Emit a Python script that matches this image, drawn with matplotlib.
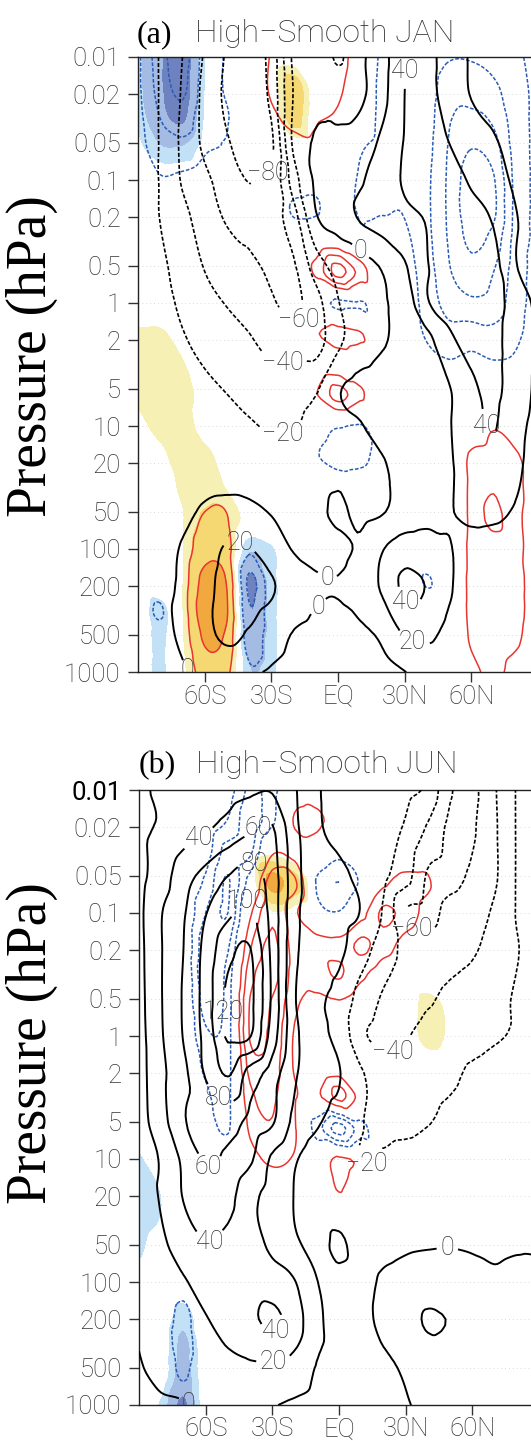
import numpy as np
import matplotlib.pyplot as plt
import matplotlib.tri as mtri

plt.rcParams['font.family'] = ['Roboto', 'DejaVu Sans']
plt.rcParams['font.weight'] = 'light'
plt.rcParams['lines.dashed_pattern'] = [2.4, 1.2]

# grid
lats = [-90, -80, -70, -60, -50, -40, -30, -20, -10, 0, 10, 20, 30, 40, 50, 60, 70, 80, 90]
p_wind = [0.01, 0.02, 0.05, 0.1, 0.2, 0.5, 1, 2, 5, 10, 20, 50, 100, 200, 500, 1000]
p_diff = [0.01, 0.0178, 0.0316, 0.0562, 0.1, 0.178, 0.316, 0.562, 1, 1.78, 3.16,
          5.62, 10, 17.8, 31.6, 56.2, 100, 178, 316, 562, 1000]

# zonal wind, January (rows follow p_wind)
u_jan = [
    [-12, -21, -40, -62, -82, -90, -72, -16, -8, -22, -4, 12, 40, 44, 32, 18, 12, 8, 5],
    [-12, -21, -42, -65, -84, -92, -74, -19, -6, -12, -4, 14, 40, 44, 33, 19, 14, 10, 6],
    [-12, -21, -44, -64, -78, -88, -84, -16, 2, 6, 10, 24, 41, 46, 40, 32, 22, 14, 8],
    [-10, -21, -42, -56, -68, -81, -76, -30, 3, 10, 18, 30, 42, 48, 46, 38, 28, 17, 10],
    [-8, -20.5, -34, -50, -62, -66, -66, -48, -2, 8, 22, 30, 36, 41, 46, 45, 38, 21, 12],
    [-6, -16, -28, -41, -50, -57, -62, -62, -30, -14, -8, 2, 18, 39, 47, 50, 46, 21, 12],
    [-4, -12, -24, -34, -41, -48, -58, -64, -48, -21, -10, -2, 8, 38, 46, 48, 46, 32, 15],
    [-2, -8, -18, -26, -32, -38, -48, -52, -50, -24, -12, -2, 6, 14, 36, 46, 45, 30, 18],
    [-1, -4, -10, -16, -21, -26, -30, -28, -22, -2, 6, 10, 13, 16, 19, 36, 44, 30, 16],
    [-2, -4, -7, -10, -14, -18, -22, -21, -14, -6, -1, 6, 11, 14, 19, 32, 41, 26, 14],
    [-2, -3, -5, -6, -7, -9, -12, -12, -9, -5, -3, -1, 6, 12, 18, 30, 36, 24, 12],
    [-3, -4, -3, 2, 5, 4, -1, -6, -4, 3, -4, -1, 8, 14, 19, 24, 24, 18, 10],
    [-4, -3, 1, 10, 22, 21, 10, -1, -4, -4, 3, 19, 30, 29, 21, 14, 12, 9, 6],
    [-3, -2, 2, 14, 26, 28, 22, 10, 2, 1, 8, 23, 44, 39, 22, 12, 8, 5, 3],
    [-3, -2, 2, 14, 24, 18, 8, -1, -4, -5, -3, 3, 21, 24, 14, 8, 4, 2, 1],
    [-3, -2, -1, 4, 6, 3, -2, -5, -4, -3, -4, -3, -0.5, 4, 5, 3, 2, 1, 0.5],
]

# zonal wind, June
u_jun = [
    [18, 22, 25, 28, 32, 36, 38, 22, 2, -4, -8, -11, -15, -24, -58, -64, -42, -19, -12],
    [17, 22, 30, 37, 46, 56, 61, 25, 3, -4, -9, -14, -22, -42, -64, -62, -43, -19, -12],
    [14, 30, 52, 66, 80, 88, 70, 28, 8, 3, -4, -16, -32, -62, -64, -57, -43, -19, -12],
    [15, 39, 58, 79, 96, 104, 72, 26, 10, 5, -1, -22, -61, -64, -55, -48, -37, -19, -12],
    [14, 39, 60, 86, 114, 121, 74, 25, 10, 4, -12, -30, -45, -51, -47, -42, -33, -21, -14],
    [13, 39, 62, 88, 124, 125, 76, 22, 4, -6, -28, -42, -47, -42, -36, -32, -26, -18, -13],
    [12, 38, 61, 86, 123, 121, 70, 26, 5, -5, -36, -44, -41, -34, -30, -27, -22, -18, -14],
    [12, 35, 55, 82, 102, 72, 50, 23, 8, 1, -18, -30, -32, -28, -24, -17, -13, -11, -10],
    [12, 32, 58, 66, 68, 54, 42, 15, 2, -6, -19, -25, -26, -21, -15, -11, -8, -6, -5],
    [12, 22, 44, 62, 56, 43, 17, 2, -8, -14, -20.5, -18, -13, -10, -8, -6, -5, -4, -3],
    [10, 22, 41, 50, 46, 26, 12, -0.5, -6, -9, -11, -10, -8, -7, -6, -5, -4, -3, -2],
    [6, 16, 30, 39, 36, 28, 16, 3, -3, 2, -5, -4, -2, -1, -0.5, -1, -2, -1, -1],
    [2, 8, 18, 27, 31, 32, 29, 21, 0.5, -3, -4, 2, 6, 9, 8, 4, 2, 3, 3],
    [1, 5, 12, 19, 27, 36, 44, 30, 4, -5, -4, 4, 12, 22, 19, 12, 6, 4, 3],
    [-1, 4, 8, 12, 15, 17, 17, 12, -1, -4, -5, -3, 2, 8, 9, 6, 3, 2, 1],
    [-3, -2, -1, 3, 6, 6, 1, -3, -5, -4, -5, -4, -1, 3, 4, 2, 1, 1, 1],
]

# High minus Smooth difference, January (rows follow p_diff)
diff_jan = [
    [-0.8, -2.6, -3.4, -1.6, -0.9, -0.3, 1.1, 1.6, 1.5, 1.5, 0.2, -1.2, -1.3, -1.3, -1.9, -1.9, -1.6, -1.2, -0.6],
    [-0.8, -2.4, -3.2, -1.5, -0.9, -0.3, 1.2, 1.8, 1.5, 1.2, 0.1, -1.3, -1.4, -1.5, -2.6, -2.6, -2.2, -1.4, -0.7],
    [-0.7, -2.0, -2.6, -1.3, -1.05, -0.4, 0.7, 1.3, 1.1, 0.8, -0.1, -1.3, -1.3, -1.6, -2.9, -3.2, -2.8, -1.5, -0.7],
    [-0.6, -1.5, -1.6, -1.1, -0.9, -0.2, 0.2, 0.5, 0.7, 0.1, -0.9, -1.3, -1.2, -1.7, -3.1, -4.0, -3.5, -1.6, -0.7],
    [-0.3, -0.9, -0.8, -0.6, -0.4, -0.1, 0, -0.5, -0.6, -0.4, -1.1, -1.2, -1.1, -1.8, -3.2, -4.5, -4.1, -1.7, -0.7],
    [-0.1, -0.3, -0.3, -0.2, -0.1, 0, -0.2, -1.1, -1.1, -0.4, -1.1, -1.05, -1.05, -1.8, -3.2, -4.6, -4.2, -1.7, -0.7],
    [0, 0, 0, 0, 0, 0, 0, -0.3, 0.1, 0.3, -0.6, -0.6, -0.8, -1.7, -3.1, -4.2, -3.6, -1.6, -0.7],
    [0, 0, 0, 0, 0, 0, 0, 0, 1.2, 3.4, 1.6, -0.3, -0.6, -1.5, -2.9, -3.6, -3.0, -1.5, -0.6],
    [0, 0, 0, 0, 0, 0, 0, 0, -0.4, -1.2, -1.1, -0.3, -0.6, -1.3, -2.5, -2.8, -2.6, -1.4, -0.6],
    [0, 0, 0, 0, 0, 0, 0, 0, 0.9, 1.5, 1.1, -0.2, -0.5, -1.1, -1.6, -1.5, -1.7, -1.2, -0.5],
    [0, 0, 0, 0, 0, 0, 0, 0, 0.1, 0.3, 0.1, 0, -0.3, -0.7, -0.9, -0.7, -0.9, -0.8, -0.3],
    [0, 0, 0, 0, 0, 0, 0, 0, 0.9, 2.4, 1.2, 0, 0, -0.3, -0.4, -0.3, -0.4, -0.3, 0],
    [0, 0, 0, 0, 0, 0, 0, 0, -0.4, -0.9, -1.1, -0.2, 0, 0, 0, 0.3, 0.9, 0.5, 0.2],
    [0, 0, 0, 0, 0, 0, 0, 0, -0.9, -1.4, -1.3, -0.5, 0, 0, 0, 1.15, 1.3, 1.1, 0.5],
    [0, 0, 0, 0.6, 0.6, 0, 0, 0, 0, -0.3, -0.3, 0, 0, 0, 0, 1.2, 1.9, 1.2, 0.6],
    [0, 0, 0.3, 1.1, 1.05, 0, 0, 0, 0, 0, 0, 0, 0, 0, 0, 1.2, 2.3, 1.2, 0.6],
    [0, 0, 0.4, 1.6, 1.4, -0.8, -0.3, 0, 0, 0, 0, 0, 0, 0, 0, 1.2, 1.5, 1.2, 0.6],
    [0, -0.4, 0.5, 2.3, 1.9, -2.2, -0.4, 0, 0, 0, 0, 0, 0, -1.1, 0, 1.2, 1.3, 1.2, 0.6],
    [-0.3, -1.1, 0.5, 2.6, 2.1, -1.9, -0.4, 0, 0, 0, 0, 0, 0, -0.3, 0, 1.2, 1.3, 1.2, 0.6],
    [0, -0.5, 0.4, 2.1, 1.7, -1.5, -0.4, 0, 0, 0, 0, 0, 0, 0, 0, 1.1, 1.3, 1.1, 0.5],
    [0, -0.3, 0.3, 1.4, 1.2, -0.8, -0.3, 0, 0, 0, 0, 0, 0, 0, 0, 0.7, 1.2, 0.7, 0.3],
]

# significant part of the January difference (shaded)
shade_jan = [
    [-0.8, -1.9, -2.8, -0.45, 0, 0, 0, 0, 0, 0, 0, 0, 0, 0, 0, 0, 0, 0, 0],
    [-0.8, -1.9, -2.7, -0.45, 0, 0, 0, 1.5, 0, 0, 0, 0, 0, 0, 0, 0, 0, 0, 0],
    [-0.6, -1.7, -2.2, -0.4, 0, 0, 0, 1.3, 0, 0, 0, 0, 0, 0, 0, 0, 0, 0, 0],
    [-0.3, -0.9, -0.9, -0.2, 0, 0, 0, 0, 0, 0, 0, 0, 0, 0, 0, 0, 0, 0, 0],
    [0, 0, 0, 0, 0, 0, 0, 0, 0, 0, 0, 0, 0, 0, 0, 0, 0, 0, 0],
    [0, 0, 0, 0, 0, 0, 0, 0, 0, 0, 0, 0, 0, 0, 0, 0, 0, 0, 0],
    [0, 0, 0, 0, 0, 0, 0, 0, 0, 0, 0, 0, 0, 0, 0, 0, 0, 0, 0],
    [0, 0, 0, 0, 0, 0, 0, 0, 0, 0, 0, 0, 0, 0, 0, 0, 0, 0, 0],
    [0, 0, 0, 0, 0, 0, 0, 0, 0, 0, 0, 0, 0, 0, 0, 0, 0, 0, 0],
    [0.6, 0.6, 0.2, 0, 0, 0, 0, 0, 0, 0, 0, 0, 0, 0, 0, 0, 0, 0, 0],
    [0.7, 0.8, 0.55, 0, 0, 0, 0, 0, 0, 0, 0, 0, 0, 0, 0, 0, 0, 0, 0],
    [0.6, 0.8, 0.7, 0.3, 0, 0, 0, 0, 0, 0, 0, 0, 0, 0, 0, 0, 0, 0, 0],
    [0.3, 0.7, 0.8, 0.2, 0, 0, 0, 0, 0, 0, 0, 0, 0, 0, 0, 0, 0, 0, 0],
    [0, 0.3, 0.8, 0.7, 0.2, 0, 0, 0, 0, 0, 0, 0, 0, 0, 0, 0, 0, 0, 0],
    [0, 0.2, 0.6, 0.8, 0.45, 0, 0, 0, 0, 0, 0, 0, 0, 0, 0, 0, 0, 0, 0],
    [0, 0, 0.45, 1.1, 1.05, 0.2, 0, 0, 0, 0, 0, 0, 0, 0, 0, 0, 0, 0, 0],
    [0, 0, 0.45, 1.6, 1.4, -0.9, -0.55, 0, 0, 0, 0, 0, 0, 0, 0, 0, 0, 0, 0],
    [0, 0, 0.45, 2.3, 1.9, -2.2, -0.7, 0, 0, 0, 0, 0, 0, 0, 0, 0, 0, 0, 0],
    [0, -0.7, 0.45, 2.6, 2.1, -1.9, -0.7, 0, 0, 0, 0, 0, 0, 0, 0, 0, 0, 0, 0],
    [0, -0.6, 0.4, 2.1, 1.7, -1.5, -0.7, 0, 0, 0, 0, 0, 0, 0, 0, 0, 0, 0, 0],
    [0, -0.6, 0.3, 1.4, 1.2, -0.9, -0.6, 0, 0, 0, 0, 0, 0, 0, 0, 0, 0, 0, 0],
]

diff_jun = [
    [0, 0, 0, 0, -0.5, -2.2, -1.4, 0.3, 0.4, 0, 0, 0, 0, 0, 0, 0, 0, 0, 0],
    [0, 0, 0, -0.2, -1.05, -2.6, -1.2, 1.1, 1.2, 0.5, 0, 0, 0, 0, 0, 0, 0, 0, 0],
    [0, 0, 0, -0.5, -2.4, -2.2, 0.8, 0.6, 0.3, -0.6, 0, 0, 0.3, 0.5, 0, 0, 0, 0, 0],
    [0, 0, 0, -1.2, -3.1, -0.5, 2.6, 2.2, -1.1, -2.0, -0.8, 0.8, 1.3, 1.1, 0, 0, 0, 0, 0],
    [0, 0, 0, -2.0, -3.0, 0.8, 2.8, 1.2, -0.5, -0.9, 0.6, 2.2, 1.6, 0.6, 0, 0, 0, 0, 0],
    [0, 0, 0, -2.6, -2.2, 1.8, 3.2, 1.6, 1.5, 1.4, 2.2, 1.5, 0.6, 0, 0, 0, 0, 0, 0],
    [0, 0, 0, -2.8, -1.6, 2.6, 3.3, 1.6, 1.6, 2.1, 1.2, 0.4, 0, 0, 0, 0, 0, 0, 0],
    [0, 0, 0, -2.4, -1.5, 3.1, 2.9, 1.2, 0.6, 0.8, 0.3, 0, 0, 0, 0, 0, 0, 0, 0],
    [0, 0, 0, -1.8, -1.4, 3.1, 2.7, 0.9, 0.3, 0.2, 0, 0, 0, 0, 0, 0, 0, 0, 0],
    [0, 0, 0, -1.2, -1.3, 2.4, 2.4, 0.9, 0, 0.3, 0, 0, 0, 0, 0, 0, 0, 0, 0],
    [0, 0, 0, -0.8, -1.2, 1.7, 2.1, 1.1, 0.8, 2.3, 0.6, 0, 0, 0, 0, 0, 0, 0, 0],
    [0, 0, 0, -0.5, -1.1, 1.2, 1.9, 1.1, -1.5, -3.4, -1.4, 0, 0, 0, 0, 0, 0, 0, 0],
    [0, 0, 0, 0, -0.3, 0.6, 1.2, 0.9, 0.2, 1.2, 0.8, 0, 0, 0, 0, 0, 0, 0, 0],
    [0, 0, 0, 0, 0, 0.2, 0.4, 0.3, 0, 1.05, 0, 0, 0, 0, 0, 0, 0, 0, 0],
    [0, 0, 0, 0, 0, 0, 0, 0, 0, 0, 0, 0, 0, 0, 0, 0, 0, 0, 0],
    [0, 0, 0, 0, 0, 0, 0, 0, 0, 0, 0, 0, 0, 0, 0, 0, 0, 0, 0],
    [0, -0.2, -0.6, 0, 0, 0, 0, 0, 0, 0, 0, 0, 0, 0, 0, 0, 0, 0, 0],
    [0, -0.4, -1.2, -0.2, 0, 0, 0, 0, 0, 0, 0, 0, 0, 0, 0, 0, 0, 0, 0],
    [0, -0.4, -1.4, -0.2, 0, 0, 0, 0, 0, 0, 0, 0, 0, 0, 0, 0, 0, 0, 0],
    [0, -0.4, -1.1, -0.2, 0, 0, 0, 0, 0, 0, 0, 0, 0, 0, 0, 0, 0, 0, 0],
    [0, -0.2, -0.6, 0, 0, 0, 0, 0, 0, 0, 0, 0, 0, 0, 0, 0, 0, 0, 0],
]

shade_jun = [
    [0, 0, 0, 0, 0, 0, 0, 0, 0, 0, 0, 0, 0, 0, 0, 0, 0, 0, 0],
    [0, 0, 0, 0, 0, 0, 0, 0, 0, 0, 0, 0, 0, 0, 0, 0, 0, 0, 0],
    [0, 0, 0, 0, 0, 0, 0.3, 0, 0, 0, 0, 0, 0, 0, 0, 0, 0, 0, 0],
    [0, 0, 0, 0, 0, 0, 2.4, 1.3, 0, 0, 0, 0, 0, 0, 0, 0, 0, 0, 0],
    [0, 0, 0, 0, 0, 0, 0.4, 0.2, 0, 0, 0, 0, 0, 0, 0, 0, 0, 0, 0],
    [0, 0, 0, 0, 0, 0, 0, 0, 0, 0, 0, 0, 0, 0, 0, 0, 0, 0, 0],
    [0, 0, 0, 0, 0, 0, 0, 0, 0, 0, 0, 0, 0, 0, 0, 0, 0, 0, 0],
    [0, 0, 0, 0, 0, 0, 0, 0, 0, 0, 0, 0, 0, 0.75, 0.3, 0, 0, 0, 0],
    [0, 0, 0, 0, 0, 0, 0, 0, 0, 0, 0, 0, 0, 0.8, 0.35, 0, 0, 0, 0],
    [0, 0, 0, 0, 0, 0, 0, 0, 0, 0, 0, 0, 0, 0, 0, 0, 0, 0, 0],
    [0, 0, 0, 0, 0, 0, 0, 0, 0, 0, 0, 0, 0, 0, 0, 0, 0, 0, 0],
    [0, 0, 0, 0, 0, 0, 0, 0, 0, 0, 0, 0, 0, 0, 0, 0, 0, 0, 0],
    [-0.6, 0, 0, 0, 0, 0, 0, 0, 0, 0, 0, 0, 0, 0, 0, 0, 0, 0, 0],
    [-0.85, -0.45, 0, 0, 0, 0, 0, 0, 0, 0, 0, 0, 0, 0, 0, 0, 0, 0, 0],
    [-0.85, -0.45, 0, 0, 0, 0, 0, 0, 0, 0, 0, 0, 0, 0, 0, 0, 0, 0, 0],
    [-0.6, 0, 0, 0, 0, 0, 0, 0, 0, 0, 0, 0, 0, 0, 0, 0, 0, 0, 0],
    [0, 0, 0, 0, 0, 0, 0, 0, 0, 0, 0, 0, 0, 0, 0, 0, 0, 0, 0],
    [0, 0, -0.7, 0, 0, 0, 0, 0, 0, 0, 0, 0, 0, 0, 0, 0, 0, 0, 0],
    [0, 0, -1.2, 0, 0, 0, 0, 0, 0, 0, 0, 0, 0, 0, 0, 0, 0, 0, 0],
    [0, 0, -1.4, 0, 0, 0, 0, 0, 0, 0, 0, 0, 0, 0, 0, 0, 0, 0, 0],
    [0, -0.6, -2.3, 0, 0, 0, 0, 0, 0, 0, 0, 0, 0, 0, 0, 0, 0, 0, 0],
]

# where the wind contours carry their numbers
labels_jan_pos = [(36.6, 0.013), (67, 10), (-44, 88), (-6, 190), (-9.6, 280), (31.5, 260), (35, 500), (-67, 950), (7.5, 0.45)]
labels_jan_neg = [(-37, 0.08), (-19, 1.66), (-25, 3.6), (-25, 11)]
labels_jun_pos = [(-63, 0.025), (-35, 0.021), (-37, 0.037), (-41, 0.074), (-46, 0.65), (-58, 3.8),
                  (-60, 14.8), (-58, 48), (-28, 255), (-29.5, 436), (-66.4, 900), (48.8, 52)]
labels_jun_neg = [(33.5, 0.13), (24.6, 1.37), (15, 14)]

p_ticks = [0.01, 0.02, 0.05, 0.1, 0.2, 0.5, 1, 2, 5, 10, 20, 50, 100, 200, 500, 1000]
p_ticklabels = ['0.01', '0.02', '0.05', '0.1', '0.2', '0.5', '1', '2', '5', '10', '20', '50', '100', '200', '500', '1000']
lat_ticks = [-60, -30, 0, 30, 60]
lat_ticklabels = ['60S', '30S', 'EQ', '30N', '60N']

shade_levels = [-50, -2, -1, -0.5, 0.5, 1, 2, 50]
shade_colors = ['#6f82c0', '#a4bbe3', '#c3e1f6', (1, 1, 1, 0), '#f7f0b4', '#f6d872', '#f1a93f']
red = '#e8352f'
blue = '#2b5cb5'


def refine(lat, p, z):
    z = np.asarray(z, float)
    gx, gy = np.meshgrid(np.asarray(lat) / 10.0, np.log10(p) * 4.0)
    ny, nx = z.shape
    k = np.arange(ny * nx).reshape(ny, nx)
    a, b = k[:-1, :-1].ravel(), k[:-1, 1:].ravel()
    c, d = k[1:, :-1].ravel(), k[1:, 1:].ravel()
    tris = np.vstack([np.column_stack([a, b, d]), np.column_stack([a, d, c])])
    tri = mtri.Triangulation(gx.ravel(), gy.ravel(), tris)
    interp = mtri.CubicTriInterpolator(tri, z.ravel(), kind='geom')
    fine, zf = mtri.UniformTriRefiner(tri).refine_field(z.ravel(), triinterpolator=interp, subdiv=3)
    return mtri.Triangulation(fine.x * 10.0, 10 ** (fine.y / 4.0), fine.triangles), zf


def fmt(v):
    return ('%d' % round(v)).replace('-', '\u2212')


def panel(ax, u, diff, shade, pos_lab, neg_lab):
    # axes scales first, so that label positions are found on screen correctly
    ax.set_yscale('log')
    ax.set_ylim(1000, 0.01)
    ax.set_xlim(-90, 90)
    ax.set_yticks(p_ticks)
    ax.set_yticklabels(p_ticklabels)
    ax.minorticks_off()
    ax.set_xticks(lat_ticks)
    ax.set_xticklabels(lat_ticklabels)
    ax.tick_params(direction='out', length=7, width=1, color='#333333',
                   labelsize=18.5, labelcolor='#333333')
    ax.tick_params(axis='y', pad=5.5)
    ax.tick_params(axis='x', pad=2)
    ax.yaxis.grid(True, color='#d9d9d9', linestyle=(0, (1, 3)), linewidth=0.7)
    ax.set_axisbelow(True)
    for s in ax.spines.values():
        s.set_linewidth(1.0)
        s.set_color('#222222')

    ts, zs = refine(lats, p_diff, shade)
    ax.tricontourf(ts, zs, levels=shade_levels, colors=shade_colors, zorder=1)
    td, zd = refine(lats, p_diff, diff)
    ax.tricontour(td, zd, levels=[1, 2, 3, 4], colors=red, linewidths=1.1, zorder=2)
    ax.tricontour(td, zd, levels=[-5, -4, -3, -2, -1], colors=blue, linewidths=1.1,
                  linestyles='dashed', zorder=2)
    tu, zu = refine(lats, p_wind, u)
    cp = ax.tricontour(tu, zu, levels=[0, 20, 40, 60, 80, 100, 120, 140], colors='k',
                       linewidths=1.4, linestyles='solid', zorder=3)
    cn = ax.tricontour(tu, zu, levels=[-100, -80, -60, -40, -20], colors='k',
                       linewidths=1.2, linestyles='dashed', zorder=3)
    for cs, pts in ((cp, pos_lab), (cn, neg_lab)):
        txt = ax.clabel(cs, manual=pts, fmt=fmt, fontsize=18, colors='#333333', inline_spacing=4)
        for t in txt:
            t.set_fontweight('light')
            t.set_rotation(0)


W, H = 531, 1441
fig = plt.figure(figsize=(W / 100, H / 100), dpi=100)
ax1 = fig.add_axes([138 / W, 1 - 672 / H, 400 / W, 615 / H])
ax2 = fig.add_axes([139 / W, 1 - 1405 / H, 400 / W, 615 / H])

panel(ax1, u_jan, diff_jan, shade_jan, labels_jan_pos, labels_jan_neg)
panel(ax2, u_jun, diff_jun, shade_jun, labels_jun_pos, labels_jun_neg)

# the top label of the lower panel is printed heavier in the original
top = ax2.get_yticklabels()[0]
top.set_fontweight('normal')
top.set_color('black')

for tag, name, x0, x1, base in (('(a)', 'High\u2212Smooth JAN', 137, 195, 42),
                                ('(b)', 'High\u2212Smooth JUN', 139, 196, 773)):
    fig.text(x0 / W, 1 - base / H, tag, family='Liberation Serif', weight='normal',
             size=23, va='baseline', ha='left')
    fig.text(x1 / W, 1 - base / H, name, size=23, va='baseline', ha='left', color='#333333')

for yc in (356, 1043):
    fig.text(32 / W, 1 - yc / H, 'Pressure (hPa)', family='Liberation Serif', weight='normal',
             size=40, rotation=90, ha='center', va='center')

fig.savefig('out.png', dpi=100)
